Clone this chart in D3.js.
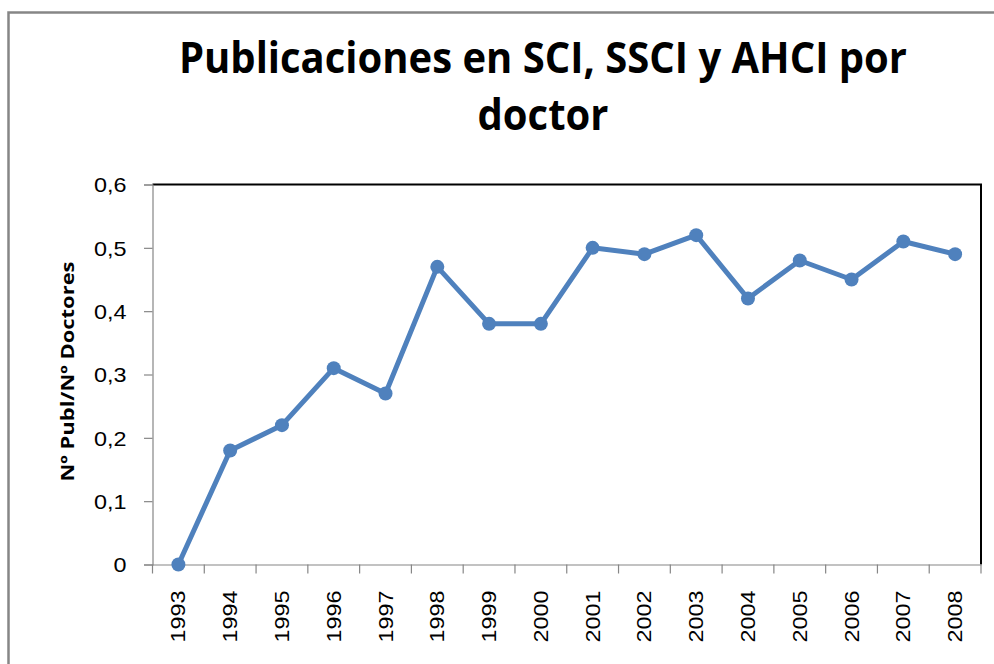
<!DOCTYPE html>
<html lang="es">
<head>
    <meta charset="UTF-8">
    <title>Publicaciones por doctor</title>
    <style>
        body { margin: 0; background: #ffffff; }
        svg { display: block; }
    </style>
</head>
<body>
    <svg id="chart" width="994" height="664"></svg>

    <script src="https://d3js.org/d3.v7.min.js"></script>
    <script>
        // Datos
        const years = ["1993", "1994", "1995", "1996", "1997", "1998", "1999", "2000",
                       "2001", "2002", "2003", "2004", "2005", "2006", "2007", "2008"];
        const ratios = [0, 0.18, 0.22, 0.31, 0.27, 0.47, 0.38, 0.38,
                        0.50, 0.49, 0.52, 0.42, 0.48, 0.45, 0.51, 0.49];
        const yTicks = [0, 0.1, 0.2, 0.3, 0.4, 0.5, 0.6];
        const chartTitle = ["Publicaciones en SCI, SSCI y AHCI por", "doctor"];
        const yLabel = "Nº Publ/Nº Doctores";

        const svg = d3.select("#chart");

        // Marco exterior del grafico
        svg.append("rect")
            .attr("x", 8.5).attr("y", 12.5)
            .attr("width", 1000).attr("height", 700)
            .attr("fill", "white")
            .attr("stroke", "#868686")
            .attr("stroke-width", 2.5);

        // Area de trazado
        const plot = { left: 152.5, top: 184.5, right: 981, bottom: 564.5 };

        const x = d3.scaleBand()
            .domain(years)
            .range([plot.left, plot.right]);

        const y = d3.scaleLinear()
            .domain([0, 0.6])
            .range([plot.bottom, plot.top]);

        // Borde superior y derecho (negro)
        svg.append("path")
            .attr("d", `M${plot.left},${plot.top}H${plot.right}V${plot.bottom}`)
            .attr("fill", "none")
            .attr("stroke", "black")
            .attr("stroke-width", 2);

        const fmt = d => d === 0 ? "0" : d.toFixed(1).replace(".", ",");

        // Eje Y
        const yAxis = svg.append("g")
            .attr("transform", `translate(${plot.left},0)`)
            .call(d3.axisLeft(y).tickValues(yTicks).tickFormat(fmt).tickSize(8.5));
        yAxis.select(".domain").attr("stroke", "#868686").attr("stroke-width", 1.2);
        yAxis.selectAll(".tick line").attr("stroke", "#868686").attr("stroke-width", 1.2);
        yAxis.selectAll(".tick text")
            .attr("fill", "black")
            .attr("x", 0)
            .attr("dy", "0.36em")
            .attr("transform", "translate(-26,0) scale(1.17,1)")
            .style("font-family", "'Liberation Sans', Arial, sans-serif")
            .style("font-size", "20px");

        // Eje X con marcas entre categorias
        const xAxis = svg.append("g")
            .attr("transform", `translate(0,${plot.bottom})`)
            .call(d3.axisBottom(x).tickSize(0).tickSizeOuter(0));
        xAxis.select(".domain").attr("stroke", "#868686").attr("stroke-width", 1.2);
        xAxis.selectAll(".tick text")
            .attr("fill", "black")
            .style("font-family", "'Liberation Sans', Arial, sans-serif")
            .style("font-size", "20px")
            .attr("text-anchor", "end")
            .attr("transform", "rotate(-90) scale(1.17,1)")
            .attr("x", -22.2)
            .attr("y", 0)
            .attr("dy", "0.35em");

        const bounds = years.map(d => x(d)).concat([plot.right]);
        svg.append("g")
            .selectAll("line")
            .data(bounds)
            .enter()
            .append("line")
            .attr("x1", d => d).attr("x2", d => d)
            .attr("y1", plot.bottom).attr("y2", plot.bottom + 9)
            .attr("stroke", "#868686")
            .attr("stroke-width", 1.2);

        // Titulo
        svg.append("text")
            .attr("transform", "translate(543,0) scale(0.93,1)")
            .attr("text-anchor", "middle")
            .style("font-family", "'Open Sans', sans-serif")
            .style("font-weight", "bold")
            .style("font-size", "43px")
            .selectAll("tspan")
            .data(chartTitle)
            .enter()
            .append("tspan")
            .attr("x", 0)
            .attr("y", (d, i) => 73 + i * 57)
            .text(d => d);

        // Titulo del eje Y
        svg.append("text")
            .attr("transform", "translate(74,371.5) rotate(-90) scale(1.22,1)")
            .attr("text-anchor", "middle")
            .style("font-family", "'Open Sans', sans-serif")
            .style("font-weight", "bold")
            .style("font-size", "18px")
            .text(yLabel);

        // Serie
        const points = years.map((yr, i) => ({ year: yr, value: ratios[i] }));
        const line = d3.line()
            .x(d => x(d.year) + x.bandwidth() / 2)
            .y(d => y(d.value));

        svg.append("path")
            .datum(points)
            .attr("d", line)
            .attr("fill", "none")
            .attr("stroke", "#4F81BD")
            .attr("stroke-width", 5)
            .attr("stroke-linejoin", "round");

        svg.append("g")
            .selectAll("circle")
            .data(points)
            .enter()
            .append("circle")
            .attr("cx", d => x(d.year) + x.bandwidth() / 2)
            .attr("cy", d => y(d.value))
            .attr("r", 7)
            .attr("fill", "#4F81BD");
    </script>
</body>
</html>
